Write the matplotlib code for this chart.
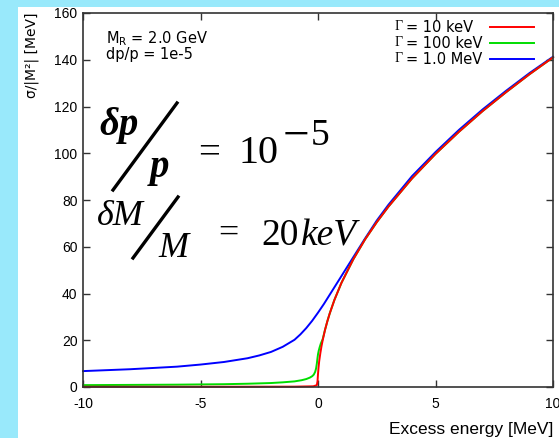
import numpy as np
import matplotlib
matplotlib.use("Agg")
import matplotlib.pyplot as plt
from matplotlib.lines import Line2D
from matplotlib.patches import Rectangle

plt.rcParams['font.family'] = ['Liberation Sans', 'DejaVu Sans']
plt.rcParams['axes.unicode_minus'] = False

W, H = 559, 438

# values
red_E = [-10, -5, -1, -0.2, -0.05, -0.02, 0.0, 0.02, 0.05, 0.1, 0.15, 0.2, 0.3, 0.4, 0.5, 0.7,
         1.0, 1.5, 2.0, 2.5, 3.0, 4.0, 5.0, 6.0, 7.0, 8.0, 9.0, 10.0]
red_V = [0.1, 0.1, 0.15, 0.3, 0.8, 2.5, 5.5, 8.0, 11.0, 14.5, 17.5, 20.0, 24.5, 28.2, 31.5, 37.3,
         44.6, 54.6, 63.1, 70.5, 77.2, 89.2, 99.7, 109.2, 118.0, 126.1, 133.8, 141.0]

green_E = [-10, -8, -6, -5, -4, -3, -2, -1.5, -1, -0.7, -0.5, -0.35, -0.25, -0.18, -0.12, -0.08,
           -0.05, -0.02, 0.0, 0.03, 0.07, 0.12, 0.2, 0.3, 0.4, 0.5, 0.7,
           1.0, 1.5, 2.0, 2.5, 3.0, 4.0, 5.0, 6.0, 7.0, 8.0, 9.0, 10.0]
green_V = [0.8, 0.9, 1.0, 1.1, 1.2, 1.4, 1.7, 2.0, 2.4, 2.9, 3.4, 4.0, 4.6, 5.3, 6.5, 8.0,
           10.0, 12.5, 14.0, 15.5, 17.0, 18.6, 20.5, 24.5, 28.2, 31.5, 37.3,
           44.6, 54.6, 63.1, 70.5, 77.2, 89.2, 99.7, 109.2, 118.0, 126.1, 133.8, 141.0]

blue_E = [-10, -8, -6, -5, -4, -3, -2.5, -2, -1.5, -1, -0.75, -0.5, -0.25, 0, 0.25, 0.5, 0.75,
          1.0, 1.25, 1.5, 2.0, 2.5, 3, 4, 5, 6, 7, 8, 9, 10]
blue_V = [6.8, 7.6, 8.7, 9.6, 10.7, 12.3, 13.5, 15.0, 17.2, 20.2, 22.5, 25.2, 28.3, 31.8, 35.5, 39.5, 43.5,
          47.5, 51.5, 55.5, 63.5, 71.2, 78.0, 90.2, 100.5, 110.0, 118.7, 126.7, 134.3, 141.3]

label_rest = ['= 10 keV', '= 100 keV', '= 1.0 MeV']
colors = ['#ff0000', '#00dd00', '#0000ff']

x_ticks = [-10, -5, 0, 5, 10]
y_ticks = [0, 20, 40, 60, 80, 100, 120, 140, 160]


def fx(px):
    return px / W


def fy(py):
    return 1 - py / H


fig = plt.figure(figsize=(W / 100, H / 100), dpi=100)
fig.patch.set_facecolor('#99e9fb')
fig.add_artist(Rectangle((fx(18), 0), 1 - fx(18), fy(7), transform=fig.transFigure,
                         facecolor='white', edgecolor='none', zorder=0))

ax = fig.add_axes([fx(83), fy(387), fx(553) - fx(83), fy(13) - fy(387)])
ax.set_facecolor('white')

ax.plot(blue_E, blue_V, color=colors[2], lw=1.4, clip_on=False)
ax.plot(green_E, green_V, color=colors[1], lw=1.4, clip_on=False)
ax.plot(red_E, red_V, color=colors[0], lw=1.4, clip_on=False)

ax.set_xlim(-10, 10)
ax.set_ylim(0, 160)
ax.set_xticks(x_ticks)
ax.set_yticks(y_ticks)
ax.tick_params(direction='in', length=5, width=1, colors='#333333', labelcolor='black',
               labelsize=10, top=True, right=True)
ax.tick_params(axis='x', pad=7)
ax.tick_params(axis='y', pad=4)
for s in ax.spines.values():
    s.set_color('#333333')
    s.set_linewidth(1.2)

# axis labels
fig.text(fx(553), fy(434), 'Excess energy [MeV]', ha='right', va='baseline', fontsize=12.5)
fig.text(fx(32), fy(13), 'σ/|M²| [MeV]', family='DejaVu Sans', rotation=90,
         ha='center', va='top', fontsize=10)

# info text
fig.text(fx(106), fy(43), r'M$_\mathregular{R}$ = 2.0 GeV', family='DejaVu Sans',
         ha='left', va='baseline', fontsize=10.5)
fig.text(fx(106), fy(59), 'dp/p = 1e-5', family='DejaVu Sans',
         ha='left', va='baseline', fontsize=10.5)

# legend drawn by hand (gnuplot style)
rows = [27, 43, 59]
for i in range(3):
    fig.text(fx(395), fy(rows[i]), 'Γ', family='Liberation Serif', ha='left', va='center',
             fontsize=10)
    fig.text(fx(406), fy(rows[i]), label_rest[i], family='DejaVu Sans', ha='left', va='center',
             fontsize=10.5)
    fig.add_artist(Line2D([fx(490), fx(534)], [fy(rows[i]), fy(rows[i])],
                          transform=fig.transFigure, color=colors[i], lw=1.4))

# big formulas
serif = 'Liberation Serif'
fig.text(fx(99), fy(135), 'δp', family=serif, style='italic', weight='bold', fontsize=28,
         ha='left', va='baseline')
fig.add_artist(Line2D([fx(113), fx(177)], [fy(190), fy(103)], transform=fig.transFigure,
                      color='black', lw=2.4))
fig.text(fx(150), fy(177), 'p', family=serif, style='italic', weight='bold', fontsize=28,
         ha='left', va='baseline')
fig.text(fx(198), fy(163), '=', family=serif, fontsize=28, ha='left', va='baseline')
fig.text(fx(239), fy(163), '10', family=serif, fontsize=29, ha='left', va='baseline')
fig.text(fx(283), fy(149), '−', family=serif, fontsize=34, ha='left', va='baseline')
fig.text(fx(311), fy(145), '5', family=serif, fontsize=27, ha='left', va='baseline')

fig.text(fx(97), fy(225), 'δM', family=serif, style='italic', fontsize=26, ha='left', va='baseline')
fig.add_artist(Line2D([fx(133), fx(178)], [fy(258), fy(197)], transform=fig.transFigure,
                      color='black', lw=2.4))
fig.text(fx(158), fy(257), 'M', family=serif, style='italic', fontsize=26, ha='left', va='baseline')
fig.text(fx(218), fy(243), '=', family=serif, fontsize=26, ha='left', va='baseline')
fig.text(fx(261), fy(245), '20', family=serif, fontsize=27, ha='left', va='baseline')
fig.text(fx(301), fy(245), 'keV', family=serif, style='italic', fontsize=27, ha='left', va='baseline')

fig.savefig('out.png', dpi=100, facecolor=fig.get_facecolor())
